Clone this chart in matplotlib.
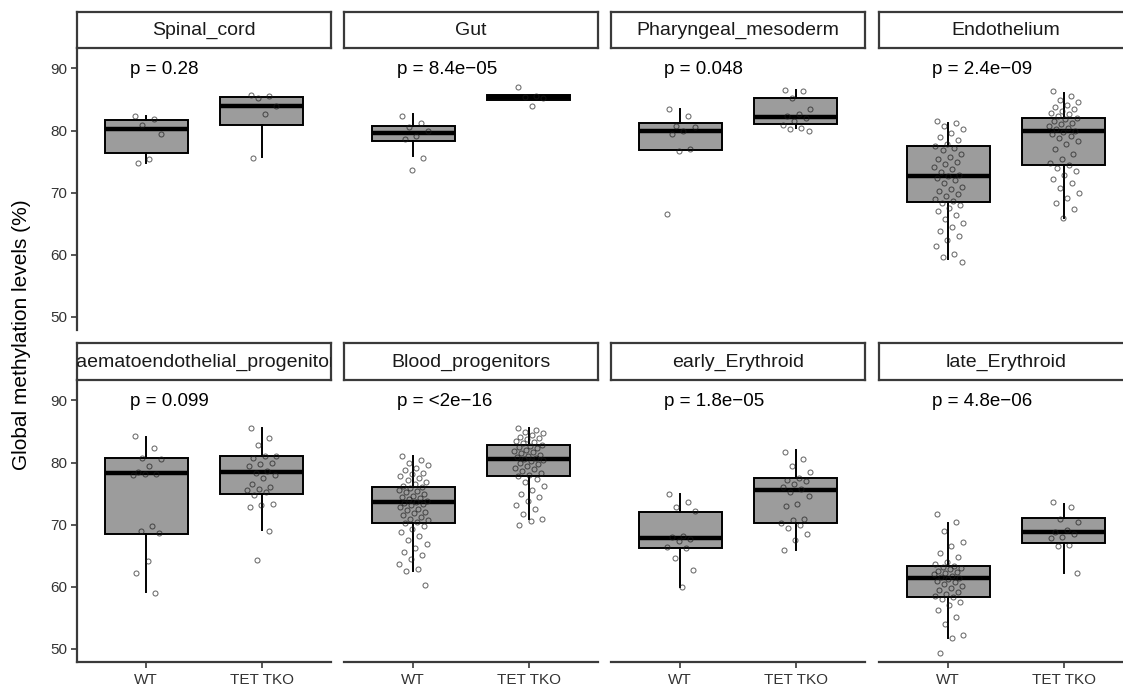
import numpy as np
import matplotlib
matplotlib.use("Agg")
from matplotlib import pyplot as plt

plt.rcParams['font.family'] = ['Liberation Sans', 'DejaVu Sans']

cell_types = ['Spinal_cord', 'Gut', 'Pharyngeal_mesoderm', 'Endothelium',
              'Haematoendothelial_progenitors', 'Blood_progenitors',
              'early_Erythroid', 'late_Erythroid']
p_labels = ['p = 0.28', 'p = 8.4e\u221205', 'p = 0.048', 'p = 2.4e\u221209',
            'p = 0.099', 'p = <2e\u221216', 'p = 1.8e\u221205', 'p = 4.8e\u221206']
genotypes = ['WT', 'TET TKO']

# box stats per panel: (whisker low, q1, median, q3, whisker high)
wt_box = [(74.8, 76.4, 80.2, 81.7, 82.4), (75.9, 78.3, 79.6, 80.7, 82.6),
          (76.8, 76.8, 80.0, 81.2, 83.5), (59.3, 68.5, 72.7, 77.6, 81.3),
          (59.1, 68.5, 78.3, 80.8, 84.2), (62.6, 70.2, 73.7, 76.1, 81.0),
          (60.0, 66.2, 67.8, 72.1, 74.9), (51.7, 58.3, 61.4, 63.4, 70.3)]
tko_box = [(75.7, 80.9, 84.0, 85.4, 85.4), (85.0, 85.0, 85.4, 85.8, 85.8),
           (80.4, 81.0, 82.2, 85.3, 86.6), (65.9, 74.4, 80.0, 82.1, 86.1),
           (69.1, 75.0, 78.5, 81.1, 85.5), (71.0, 77.8, 80.6, 82.9, 85.6),
           (65.9, 70.3, 75.6, 77.5, 82.0), (62.3, 67.0, 68.9, 71.1, 73.3)]

# individual samples (methylation %)
wt_points = [
    [82.4, 81.9, 80.9, 79.4, 75.4, 74.8],
    [82.4, 81.2, 80.6, 79.9, 79.2, 78.6, 75.6, 73.7],
    [83.4, 82.4, 80.8, 80.6, 80.0, 79.4, 77.0, 76.7, 66.5],
    [81.5, 81.2, 80.8, 80.3, 79.6, 79.0, 78.5, 77.9, 77.6, 77.2, 76.8, 76.2,
     75.8, 75.4, 75.0, 74.6, 74.2, 73.8, 73.3, 72.9, 72.7, 72.4, 72.0, 71.5,
     71.0, 70.6, 70.2, 69.8, 69.4, 69.0, 68.7, 68.4, 68.0, 67.5, 67.0, 66.4,
     65.8, 65.2, 64.5, 63.8, 63.0, 62.4, 61.5, 60.2, 59.6, 58.8],
    [84.3, 82.4, 80.7, 80.6, 79.5, 78.5, 78.2, 78.2, 78.0, 69.8, 69.0, 68.6,
     64.2, 62.3, 59.0],
    [81.0, 80.5, 80.0, 79.6, 79.2, 78.8, 78.4, 78.1, 77.8, 77.5, 77.2, 76.9,
     76.6, 76.3, 76.1, 75.9, 75.6, 75.4, 75.2, 74.9, 74.7, 74.5, 74.3, 74.1,
     73.9, 73.7, 73.5, 73.3, 73.1, 72.9, 72.6, 72.4, 72.1, 71.9, 71.6, 71.3,
     71.0, 70.7, 70.4, 70.2, 69.8, 69.3, 68.8, 68.2, 67.6, 66.9, 66.3, 65.6,
     65.1, 64.5, 63.6, 62.8, 62.5, 60.3],
    [75.0, 73.7, 72.9, 72.2, 68.2, 68.0, 67.7, 67.3, 66.4, 66.2, 64.7, 62.7,
     60.0],
    [71.8, 70.4, 69.0, 67.2, 66.5, 65.4, 64.8, 64.0, 63.6, 63.4, 63.2, 63.0,
     62.8, 62.6, 62.4, 62.2, 62.0, 61.8, 61.6, 61.4, 61.2, 61.0, 60.7, 60.4,
     60.1, 59.8, 59.5, 59.2, 58.9, 58.6, 58.3, 58.0, 57.6, 57.0, 56.2, 55.2,
     54.0, 52.3, 51.7, 49.3],
]
tko_points = [
    [85.8, 85.5, 85.2, 84.0, 82.7, 75.6],
    [87.0, 85.6, 85.4, 85.3, 83.9],
    [86.5, 86.3, 85.2, 83.5, 82.6, 82.3, 82.0, 81.5, 80.9, 80.5, 80.3, 80.0],
    [86.3, 85.5, 85.0, 84.6, 84.2, 83.8, 83.5, 83.2, 82.9, 82.6, 82.3, 82.1,
     81.8, 81.5, 81.2, 81.0, 80.7, 80.4, 80.2, 80.0, 79.8, 79.5, 79.2, 78.8,
     78.3, 77.8, 77.0, 76.3, 75.5, 74.8, 74.4, 74.0, 73.5, 72.9, 72.2, 71.5,
     70.8, 70.0, 69.2, 68.3, 67.3, 65.9],
    [85.5, 83.9, 82.8, 81.1, 81.0, 80.7, 80.0, 79.7, 79.4, 78.6, 78.4, 78.0,
     77.6, 76.5, 76.0, 75.8, 75.6, 75.2, 74.8, 73.4, 73.2, 72.8, 69.0, 64.3],
    [85.6, 85.3, 85.0, 84.7, 84.5, 84.2, 84.0, 83.8, 83.5, 83.3, 83.1, 82.9,
     82.7, 82.5, 82.3, 82.1, 81.9, 81.7, 81.5, 81.3, 81.1, 80.9, 80.7, 80.6,
     80.4, 80.2, 80.0, 79.8, 79.5, 79.2, 78.9, 78.6, 78.3, 78.0, 77.8, 77.4,
     76.8, 76.2, 75.6, 75.0, 74.5, 73.8, 73.2, 72.5, 71.8, 71.0, 70.6, 70.0],
    [81.7, 80.6, 79.5, 78.5, 77.6, 77.2, 77.0, 76.5, 76.0, 75.7, 75.3, 74.6,
     73.4, 73.0, 71.0, 70.8, 70.3, 70.0, 69.5, 68.5, 67.5, 66.0],
    [73.6, 72.9, 71.0, 70.5, 69.2, 68.9, 68.5, 68.0, 67.8, 66.8, 66.5, 62.3],
]

W, H = 1123, 687
fig = plt.figure(figsize=(W / 100, H / 100), dpi=100)

col_x = [77, 344, 611, 879]
panel_w = 254
row_top = [48, 380]
row_bot = [330, 662]
strip_top = [12, 343]
axis_col = '#3a3a3a'


def rect(x0, y0, x1, y1):
    return [x0 / W, 1 - y1 / H, (x1 - x0) / W, (y1 - y0) / H]


def jitter(n):
    return ((np.arange(n) * 0.618034 + 0.13) % 1 - 0.5) * 0.26


for i, name in enumerate(cell_types):
    r, c = divmod(i, 4)
    x0 = col_x[c]
    ax = fig.add_axes(rect(x0, row_top[r], x0 + panel_w, row_bot[r]))
    sax = fig.add_axes(rect(x0, strip_top[r], x0 + panel_w, row_top[r]))

    stats = []
    for box in (wt_box[i], tko_box[i]):
        lo, q1, med, q3, hi = box
        stats.append(dict(whislo=lo, q1=q1, med=med, q3=q3, whishi=hi, fliers=[]))
    ax.bxp(stats, positions=[1, 2], widths=0.72, patch_artist=True,
           showcaps=False, showfliers=False,
           boxprops=dict(facecolor='#9c9c9c', edgecolor='black', linewidth=1.4),
           whiskerprops=dict(color='black', linewidth=1.4),
           medianprops=dict(color='black', linewidth=3.2))

    for pos, pts in ((1, wt_points[i]), (2, tko_points[i])):
        pts = np.array(pts)
        ax.plot(pos + jitter(len(pts)), pts, 'o', ms=3.6, mfc='none',
                mec=(0.1, 0.1, 0.1, 0.65), mew=0.75, zorder=4)

    ax.text(0.86, 89.8, p_labels[i], fontsize=13.5, ha='left', va='center',
            color='black')

    ax.set_xlim(0.4, 2.6)
    ax.set_ylim(47.9, 93.3)
    ax.set_facecolor('none')
    for s in ('top', 'right'):
        ax.spines[s].set_visible(False)
    ax.spines['left'].set_visible(c == 0)
    ax.spines['bottom'].set_visible(r == 1)
    for s in ('left', 'bottom'):
        ax.spines[s].set_color(axis_col)
        ax.spines[s].set_linewidth(1.6)
    ax.set_xticks([1, 2])
    ax.set_yticks([50, 60, 70, 80, 90])
    if r == 1:
        ax.set_xticklabels(genotypes)
        ax.tick_params(axis='x', length=4, width=1.2, color=axis_col,
                       labelsize=11, labelcolor='#333333', pad=4)
    else:
        ax.tick_params(axis='x', bottom=False, labelbottom=False)
    if c == 0:
        ax.tick_params(axis='y', length=4, width=1.2, color=axis_col,
                       labelsize=11, labelcolor='#333333', pad=3)
    else:
        ax.tick_params(axis='y', left=False, labelleft=False)

    sax.set_xticks([])
    sax.set_yticks([])
    sax.set_facecolor('white')
    for s in sax.spines.values():
        s.set_color(axis_col)
        s.set_linewidth(1.6)
    sax.text(0.5, 0.48, name, transform=sax.transAxes, ha='center',
             va='center', fontsize=14, color='#1a1a1a', clip_on=True)

fig.text(22 / W, 1 - 335 / H, 'Global methylation levels (%)', rotation=90,
         ha='center', va='center', fontsize=15, color='black')

fig.savefig('out.png', dpi=100)
